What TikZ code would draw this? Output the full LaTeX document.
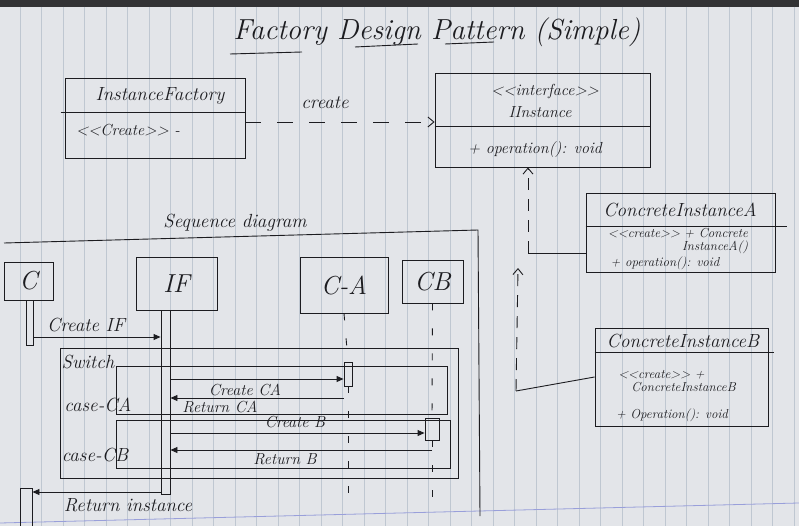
\documentclass[tikz,border=0pt]{standalone}
\usepackage{fontspec}
\usetikzlibrary{arrows.meta,calc}
\definecolor{paper}{HTML}{E3E5E9}
\definecolor{ruling}{HTML}{BFC7D1}
\definecolor{edge}{HTML}{333335}
\definecolor{ink}{HTML}{1C1C20}
% two separate angle brackets, no guillemet ligature
\newcommand{\ltlt}{<\kern0pt<}
\newcommand{\gtgt}{>\kern0pt>}
\begin{document}
\begin{tikzpicture}[x=1pt,y=-1pt,
  pen/.style={draw=ink,line width=0.9pt},
  box/.style={pen,rectangle,inner sep=0pt},
  txt/.style={text=ink,inner sep=1pt,font=\itshape\fontsize{16}{17}\selectfont},
  smalltxt/.style={txt,font=\itshape\fontsize{13}{13.5}\selectfont},
  lbl/.style={txt,font=\itshape\fontsize{19}{20}\selectfont},
  bigtxt/.style={txt,font=\itshape\fontsize{26}{28}\selectfont},
  msg/.style={pen,-{Triangle[length=7pt,width=6pt]}},
  dep/.style={pen,dash pattern=on 16pt off 16pt,-{Straight Barb[length=6pt,width=10pt]}},
  real/.style={pen,dash pattern=on 12pt off 9pt,-{Straight Barb[length=6pt,width=10pt]}},
  life/.style={pen,dash pattern=on 7pt off 18pt},
]
\useasboundingbox (0,0) rectangle (799,526);

% ruled sheet
\fill[paper] (0,0) rectangle (799,526);
\fill[edge] (0,0) rectangle (799,7);
\foreach \k in {0,...,36}
  \draw[ruling,line width=0.8pt] ({20+21.5*\k},7) -- ({20+21.5*\k},526);
\draw[ruling!80!blue,line width=0.8pt] (0,523) -- (799,503);

% title
\node[txt,font=\itshape\fontsize{29}{31}\selectfont] (title) at (437,32) {Factory Design Pattern (Simple)};
\draw[pen] (230,54) -- (302,52);
\draw[pen] (355,47) -- (418,44);
\draw[pen] (445,44) -- (494,42);

% class diagram
\node[box,minimum width=180pt,minimum height=80pt] (fac) at (155,118) {};
\draw[pen] ($(fac.north west)+(-4,35)$) -- ($(fac.north east)+(0,35)$);
\node[lbl] (facname) at (160,96) {InstanceFactory};
\node[txt] (faccr) at (128,130) {\ltlt Create\gtgt\ -};

\node[box,minimum width=215pt,minimum height=94pt] (iface) at (542.5,120) {};
\draw[pen] ($(iface.north west)+(0,54)$) -- ($(iface.north east)+(0,54)$);
\node[txt] (ifst) at (545,92) {\ltlt interface\gtgt};
\node[txt] (ifname) at (540,112) {IInstance};
\node[txt] (ifop) at (535,150) {+ operation(): void};

\draw[dep] ($(fac.east)+(0,4)$) -- ($(iface.west)+(0,2)$);
\node[lbl] (crlab) at (325,103) {create};

\node[box,minimum width=189pt,minimum height=79pt] (conA) at (680.5,232.5) {};
\draw[pen] ($(conA.north west)+(0,34)$) -- ($(conA.north east)+(12,34)$);
\node[lbl] (caname) at (680,210) {ConcreteInstanceA};
\node[smalltxt,align=right] (cacr) at (678,241) {\ltlt create\gtgt\ + Concrete\\InstanceA()};
\node[smalltxt] (caop) at (665,263) {+ operation(): void};

\node[box,minimum width=173pt,minimum height=98pt] (conB) at (681.5,377) {};
\draw[pen] ($(conB.north west)+(0,25)$) -- ($(conB.north east)+(6,25)$);
\node[lbl] (cbname) at (683,341) {ConcreteInstanceB};
\node[smalltxt,align=left] (cbcr) at (677,381) {\ltlt create\gtgt\ +\\\quad ConcreteInstanceB};
\node[smalltxt] (cbop) at (672,415) {+ Operation(): void};

\coordinate (jA) at (528,253);
\draw[pen] (jA) -- (conA.west |- jA);
\draw[real] (jA) -- (jA |- iface.south);
\coordinate (jB) at (516,391);
\coordinate (tB) at (518,268);
\draw[pen] (jB) -- (conB.west);
\draw[real] (jB) -- (tB);

% sequence diagram
\coordinate (sdL) at (4,243);
\coordinate (sdR) at (478,230);
\coordinate (sdB) at (480,516);
\draw[pen] (sdL) -- (sdR) -- (sdB);
\node[lbl] (sdlab) at (235,223) {Sequence diagram};

\node[box,bigtxt,minimum width=49pt,minimum height=38pt] (lC) at (28.5,281) {C};
\node[box,bigtxt,minimum width=81pt,minimum height=53pt] (lIF) at (176.5,283.5) {IF};
\node[box,bigtxt,minimum width=88pt,minimum height=56pt] (lCA) at (344,285) {C-A};
\node[box,bigtxt,minimum width=61pt,minimum height=43pt] (lCB) at (432.5,281.5) {CB};

\node[box,minimum width=7pt,minimum height=45pt] (actC) at (29.5,322.5) {};
\node[box,minimum width=9pt,minimum height=184pt] (actIF) at (165.5,402) {};
\node[box,minimum width=8pt,minimum height=24pt] (actCA) at (348,374) {};
\node[box,minimum width=14pt,minimum height=22pt] (actCB) at (432,429) {};
\node[box,minimum width=12pt,minimum height=44pt] (actC2) at (26,510) {};

\coordinate (endCA) at (348,508);
\coordinate (endCB) at (432,505);
\draw[life] (lCA.south) -- (actCA.north);
\draw[life] (actCA.south) -- (endCA);
\draw[life] (lCB.south) -- (actCB.north);
\draw[life] (actCB.south) -- (endCB);

% combined fragments
\node[box,minimum width=398pt,minimum height=130pt] (sw) at (259,413) {};
\node[box,minimum width=331pt,minimum height=48pt] (fragA) at (281.5,390) {};
\node[box,minimum width=334pt,minimum height=48pt] (fragB) at (283,444) {};
\node[lbl] (swlab) at (88,362) {Switch};
\node[lbl] (calab) at (98,405) {case-CA};
\node[lbl] (cblab) at (95,455) {case-CB};

% messages
\coordinate (r1) at (0,337);
\coordinate (r2) at (0,379);
\coordinate (r3) at (0,398);
\coordinate (r4) at (0,433);
\coordinate (r5) at (0,450);
\coordinate (r6) at (0,492);
\draw[msg] (actC.east |- r1) -- (actIF.west |- r1);
\node[lbl] (l1) at (86,325) {Create IF};
\draw[msg] (actIF.east |- r2) -- (actCA.west |- r2);
\node[txt] (l2) at (245,390) {Create CA};
\draw[msg] (actCA.west |- r3) -- (actIF.east |- r3);
\node[txt] (l3) at (220,407) {Return CA};
\draw[msg] (actIF.east |- r4) -- (actCB.west |- r4);
\node[txt] (l4) at (295,422) {Create B};
\draw[msg] (actCB.south |- r5) -- (actIF.east |- r5);
\node[txt] (l5) at (285,459) {Return B};
\draw[msg] (actIF.west |- r6) -- (actC2.east |- r6);
\node[lbl] (l6) at (128,505) {Return instance};
\end{tikzpicture}
\end{document}
